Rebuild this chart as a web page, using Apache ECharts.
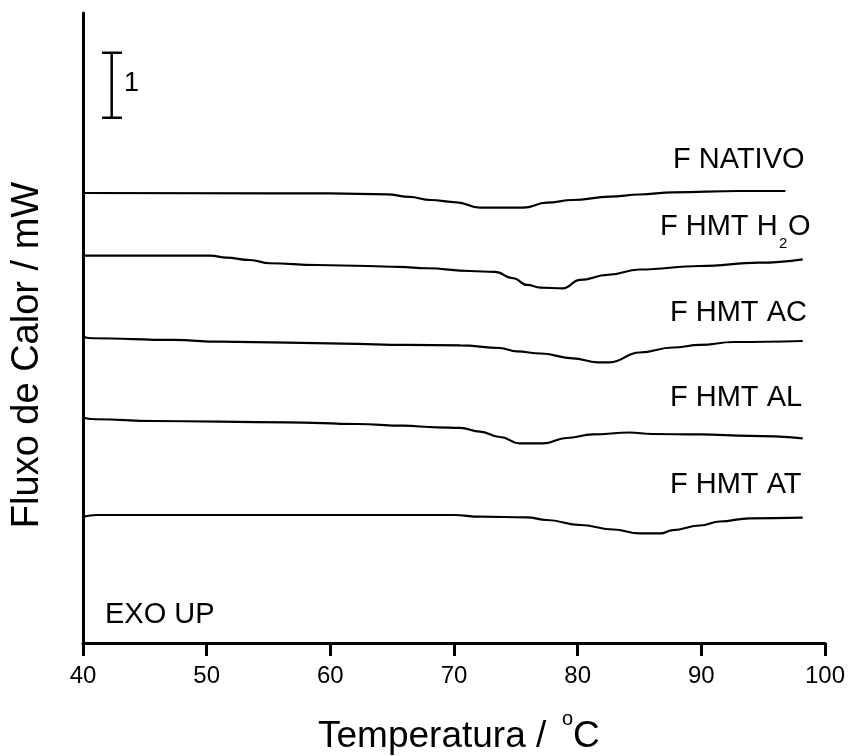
<!DOCTYPE html>
<html>
<head>
<meta charset="utf-8">
<script src="https://cdn.jsdelivr.net/npm/echarts@6/dist/echarts.min.js"></script>
<style>
html,body{margin:0;padding:0;background:#fff}
#chart{width:849px;height:756px}
</style>
</head>
<body>
<div id="chart"></div>
<script>
// DSC curves, [temperatura (C), fluxo (mW, offset por curva)]
var nativo = [[40,6.923],[60,6.918],[64.6,6.903],[66.4,6.862],[68.1,6.815],[70.2,6.780],[72.1,6.697],[75.6,6.697],[77.5,6.774],[79.6,6.815],[82.6,6.866],[85.0,6.900],[87.7,6.934],[93.1,6.954],[96.8,6.954]];
var hmtH2O = [[40,5.958],[50.3,5.958],[51.6,5.928],[53.5,5.892],[55.1,5.842],[58.9,5.815],[63.0,5.800],[65.6,5.785],[67.8,5.765],[71.3,5.723],[73.3,5.708],[74.8,5.611],[75.9,5.508],[77.0,5.466],[78.8,5.457],[80.2,5.585],[82.4,5.662],[85.0,5.746],[89.9,5.800],[94.7,5.851],[98.2,5.903]];
var hmtAC = [[40,4.712],[40.8,4.688],[47.3,4.662],[51.1,4.635],[56.5,4.620],[61.0,4.605],[66.2,4.585],[70.5,4.580],[73.7,4.538],[75.1,4.485],[77.0,4.454],[79.6,4.380],[81.6,4.318],[82.6,4.318],[85.0,4.469],[87.7,4.546],[89.9,4.585],[92.6,4.631],[98.2,4.646]];
var hmtAL = [[40,3.466],[41.1,3.442],[45.7,3.415],[56.5,3.395],[62.2,3.369],[65.9,3.343],[68.6,3.318],[70.5,3.308],[72.1,3.251],[73.7,3.169],[75.3,3.072],[77.2,3.072],[79.1,3.154],[81.2,3.208],[84.2,3.238],[86.0,3.215],[89.9,3.208],[93.9,3.185],[98.2,3.149]];
var hmtAT = [[40,1.943],[41.1,1.969],[70.0,1.969],[72.1,1.943],[75.9,1.934],[77.5,1.892],[80.2,1.815],[82.9,1.746],[85.0,1.685],[86.7,1.685],[87.7,1.738],[89.9,1.808],[91.5,1.869],[93.9,1.918],[98.2,1.928]];
// barra de escala = 1 mW
var scaleBar = [[41.54,9.081],[43.15,9.081],[42.32,9.081],[42.32,8.081],[41.54,8.081],[43.15,8.081]];
var xTicks = [40, 100, 10];

var font = '"Liberation Sans", Arial, sans-serif';

function curve(name, data){
    return {
        name: name,
        type: 'line',
        data: data,
        smooth: 0.45,
        smoothMonotone: 'x',
        symbol: 'none',
        lineStyle: {color: '#000', width: 2.2}
    };
}

function label(text, x, y, size){
    return {
        type: 'text', x: x, y: y,
        style: {text: text, fill: '#000', font: (size || 29) + 'px ' + font, align: 'left', verticalAlign: 'middle'}
    };
}

var myChart = echarts.init(document.getElementById('chart'));
myChart.setOption({
    animation: false,
    backgroundColor: '#fff',
    grid: {left: 83, right: 24, top: 13, bottom: 113},
    xAxis: {
        type: 'value',
        min: xTicks[0],
        max: xTicks[1],
        interval: xTicks[2],
        axisLine: {show: true, lineStyle: {color: '#000', width: 3}},
        axisTick: {show: true, inside: false, length: 13, lineStyle: {color: '#000', width: 3}},
        axisLabel: {color: '#000', fontSize: 24, fontFamily: font, margin: 21},
        splitLine: {show: false}
    },
    yAxis: {
        type: 'value',
        min: 0,
        max: 9.692,
        axisLine: {show: true, lineStyle: {color: '#000', width: 3}},
        axisTick: {show: false},
        axisLabel: {show: false},
        splitLine: {show: false}
    },
    series: [
        curve('F NATIVO', nativo),
        curve('F HMT H2O', hmtH2O),
        curve('F HMT AC', hmtAC),
        curve('F HMT AL', hmtAL),
        curve('F HMT AT', hmtAT),
        {
            name: 'escala',
            type: 'line',
            data: scaleBar,
            symbol: 'none',
            lineStyle: {color: '#000', width: 2.5}
        }
    ],
    graphic: [
        label('F NATIVO', 673, 160),
        label('F HMT H', 660, 227),
        label('2', 779, 244, 15),
        label('O', 788, 227),
        label('F HMT AC', 670, 313),
        label('F HMT AL', 670, 398),
        label('F HMT AT', 670, 485),
        label('EXO UP', 105, 615),
        label('1', 124, 84, 27),
        label('Temperatura / ', 318, 737, 37),
        label('o', 562, 719, 20),
        label('C', 573, 737, 37),
        {
            type: 'text', x: 28, y: 355, rotation: Math.PI / 2,
            style: {text: 'Fluxo de Calor / mW', fill: '#000', font: '38px ' + font, align: 'center', verticalAlign: 'middle'}
        }
    ]
});
</script>
</body>
</html>
